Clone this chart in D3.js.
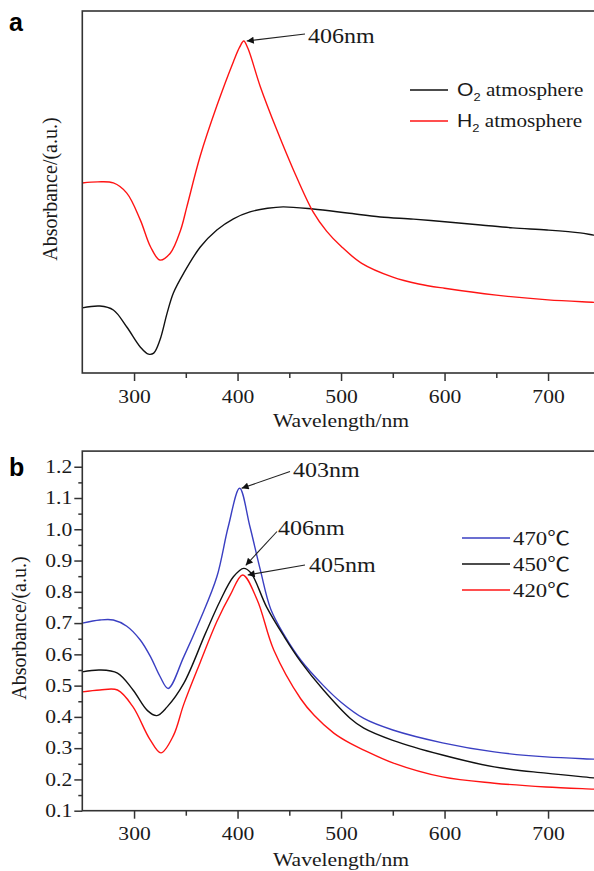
<!DOCTYPE html>
<html>
<head>
<meta charset="utf-8">
<script src="https://cdn.jsdelivr.net/npm/d3@7"></script>
<style>
  body { margin: 0; background: #fff; }
</style>
</head>
<body>
<div id="chart"></div>
<script>
// ---- data: [wavelength nm, absorbance] ----
const waveTicks = [300, 400, 500, 600, 700];
const waveMinorTicks = [350, 450, 550, 650];
const absTicks = [0.1, 0.2, 0.3, 0.4, 0.5, 0.6, 0.7, 0.8, 0.9, 1.0, 1.1, 1.2];
const absMinorTicks = [0.15, 0.25, 0.35, 0.45, 0.55, 0.65, 0.75, 0.85, 0.95, 1.05, 1.15];

// panel a (arbitrary units)
const o2Atmosphere = [
  [250, 0.180], [267, 0.185], [280, 0.174], [293, 0.127], [306, 0.072], [314, 0.052],
  [319, 0.055], [325, 0.091], [332, 0.166], [338, 0.221], [348, 0.276], [364, 0.348],
  [380, 0.395], [396, 0.426], [412, 0.445], [429, 0.455], [444, 0.459], [473, 0.453],
  [506, 0.442], [538, 0.431], [570, 0.425], [603, 0.417], [635, 0.409], [666, 0.401],
  [699, 0.395], [731, 0.387], [744, 0.381], [750, 0.379]
];
const h2Atmosphere = [
  [250, 0.525], [265, 0.528], [280, 0.525], [293, 0.497], [306, 0.423], [316, 0.348],
  [325, 0.312], [335, 0.331], [345, 0.395], [351, 0.459], [364, 0.600], [380, 0.738],
  [396, 0.860], [402, 0.900], [406, 0.917], [410, 0.897], [422, 0.791], [438, 0.671],
  [454, 0.561], [473, 0.445], [486, 0.392], [500, 0.350], [520, 0.303], [550, 0.265],
  [575, 0.246], [600, 0.234], [650, 0.215], [700, 0.202], [745, 0.195], [750, 0.194]
];
const gasNames = ["O", "H"];

// panel b
const temp470 = [
  [250, 0.700], [267, 0.710], [280, 0.710], [293, 0.690], [306, 0.646], [316, 0.592],
  [325, 0.530], [333, 0.491], [348, 0.592], [364, 0.712], [380, 0.848],
  [391, 1.008], [402, 1.131], [412, 1.008], [422, 0.870], [432, 0.745], [445, 0.662],
  [461, 0.582], [483, 0.500], [500, 0.447], [522, 0.395], [550, 0.358], [598, 0.317],
  [648, 0.288], [698, 0.272], [744, 0.265], [750, 0.264]
];
const temp450 = [
  [250, 0.544], [267, 0.550], [284, 0.540], [299, 0.486], [313, 0.420], [322, 0.404],
  [332, 0.432], [348, 0.507], [369, 0.667], [383, 0.770], [396, 0.848], [406, 0.875],
  [413, 0.860], [428, 0.752], [445, 0.657], [461, 0.577], [483, 0.486], [509, 0.395],
  [522, 0.364], [550, 0.325], [598, 0.278], [648, 0.240], [698, 0.220], [744, 0.205],
  [750, 0.203]
];
const temp420 = [
  [250, 0.480], [267, 0.486], [284, 0.486], [299, 0.432], [315, 0.330], [326, 0.285],
  [338, 0.340], [348, 0.440], [364, 0.575], [380, 0.705], [393, 0.790], [405, 0.854],
  [419, 0.774], [435, 0.614], [461, 0.458], [474, 0.405], [493, 0.348], [509, 0.315],
  [522, 0.294], [550, 0.253], [598, 0.208], [648, 0.188], [698, 0.176], [744, 0.169],
  [750, 0.168]
];
const tempNames = ["470\u2103", "450\u2103", "420\u2103"];
const peakLabelsA = ["406nm"];
const peakLabelsB = ["403nm", "406nm", "405nm"];

// ---- setup ----
const W = 594, H = 871;
const serif = '"Liberation Serif","Times New Roman","Noto Sans CJK SC",serif';
const sans = '"Liberation Sans",Arial,sans-serif';
const STRETCH = 1.2;  // source figure text is a bit wide
const axisColor = "#333";
const red = "#ff1414", blue = "#3a3fc2", black = "#111";

const svg = d3.select("#chart").append("svg")
  .attr("width", W).attr("height", H)
  .style("font-family", serif);

const defs = svg.append("defs");
defs.append("marker")
  .attr("id", "arrow")
  .attr("viewBox", "0 0 10 10")
  .attr("refX", 10).attr("refY", 5)
  .attr("markerUnits", "userSpaceOnUse")
  .attr("markerWidth", 10).attr("markerHeight", 7)
  .attr("orient", "auto")
  .append("path").attr("d", "M0,0L10,5L0,10z").attr("fill", "#111");

function text(g, x, y, str, size, anchor) {
  return g.append("text")
    .attr("transform", `translate(${x},${y}) scale(${STRETCH},1)`)
    .attr("text-anchor", anchor || "start")
    .attr("fill", "#1a1a1a")
    .style("font-size", size + "px")
    .text(str);
}

function styleAxis(g) {
  g.select(".domain").remove();
  g.selectAll(".tick line").attr("stroke", axisColor).attr("stroke-width", 1.5);
}

function xAxis(g, x, yPos) {
  const major = g.append("g")
    .attr("transform", `translate(0,${yPos})`)
    .call(d3.axisBottom(x).tickValues(waveTicks).tickSize(8).tickPadding(9).tickSizeOuter(0));
  styleAxis(major);
  major.selectAll("text")
    .attr("transform", `scale(${STRETCH},1)`)
    .attr("fill", "#1a1a1a")
    .style("font-size", "18px").style("font-family", serif);
  const minor = g.append("g")
    .attr("transform", `translate(0,${yPos})`)
    .call(d3.axisBottom(x).tickValues(waveMinorTicks).tickSize(5).tickFormat(""));
  styleAxis(minor);
}

function frame(g, x, y) {
  const [x0, x1] = x.range(), [y0, y1] = y.range();
  g.append("rect")
    .attr("x", x0).attr("y", y1)
    .attr("width", x1 - x0).attr("height", y0 - y1)
    .attr("fill", "none").attr("stroke", axisColor).attr("stroke-width", 1.6);
}

function curve(g, data, x, y, color) {
  const line = d3.line().x(d => x(d[0])).y(d => y(d[1])).curve(d3.curveCatmullRom.alpha(0.5));
  g.append("path").datum(data)
    .attr("fill", "none").attr("stroke", color)
    .attr("stroke-width", 1.4).attr("stroke-linejoin", "round")
    .attr("d", line);
}

function peak(data) { return d3.greatest(data, d => d[1]); }

function arrow(g, x1, y1, x2, y2) {
  g.append("line")
    .attr("x1", x1).attr("y1", y1).attr("x2", x2).attr("y2", y2)
    .attr("stroke", "#222").attr("stroke-width", 1.1)
    .attr("marker-end", "url(#arrow)");
}

// ---- panel a ----
const xA = d3.scaleLinear().domain([250, 750]).range([82.3, 599.8]);
const yA = d3.scaleLinear().domain([0, 1]).range([373, 11]);
const gA = svg.append("g");

curve(gA, o2Atmosphere, xA, yA, black);
curve(gA, h2Atmosphere, xA, yA, red);
frame(gA, xA, yA);
xAxis(gA, xA, 373);

text(gA, xA(500), 427, "Wavelength/nm", 18, "middle");
gA.append("text")
  .attr("transform", "translate(57,189) rotate(-90)")
  .attr("text-anchor", "middle").attr("fill", "#1a1a1a")
  .style("font-size", "20px")
  .text("Absorbance/(a.u.)");

svg.append("text").attr("x", 9).attr("y", 31)
  .style("font-family", sans).style("font-weight", "bold").style("font-size", "25px")
  .text("a");

// peak annotation a
const pA = peak(h2Atmosphere);
arrow(gA, 305, 34, xA(pA[0]) + 3, yA(pA[1]));
text(gA, 308, 43, peakLabelsA[0], 20);

// legend a
[black, red].forEach((c, i) => {
  const ly = 90 + i * 31;
  gA.append("line").attr("x1", 410).attr("x2", 448).attr("y1", ly).attr("y2", ly)
    .attr("stroke", c).attr("stroke-width", 1.4);
  const t = gA.append("text")
    .attr("transform", `translate(457,${ly + 6}) scale(${STRETCH * 0.98},1)`)
    .attr("fill", "#1a1a1a").style("font-size", "18px");
  t.append("tspan").style("font-family", sans).text(gasNames[i]);
  t.append("tspan").style("font-family", sans).style("font-size", "11px").attr("dy", 5).text("2");
  t.append("tspan").attr("dy", -5).text(" atmosphere");
});

// ---- panel b ----
const xB = d3.scaleLinear().domain([250, 750]).range([82.3, 599.8]);
const yB = d3.scaleLinear().domain([0.1, 1.25]).range([810.7, 451.1]);
const gB = svg.append("g");

const seriesB = [temp470, temp450, temp420];
const colorsB = [blue, black, red];
seriesB.forEach((s, i) => curve(gB, s, xB, yB, colorsB[i]));
frame(gB, xB, yB);
xAxis(gB, xB, 810.7);

const yMajor = gB.append("g").attr("transform", "translate(82.3,0)")
  .call(d3.axisLeft(yB).tickValues(absTicks).tickSize(8).tickFormat(d3.format(".1f")).tickSizeOuter(0));
styleAxis(yMajor);
yMajor.selectAll("text")
  .attr("x", -10 / STRETCH)
  .attr("transform", `scale(${STRETCH},1)`)
  .attr("fill", "#1a1a1a")
  .style("font-size", "18px").style("font-family", serif);
const yMinor = gB.append("g").attr("transform", "translate(82.3,0)")
  .call(d3.axisLeft(yB).tickValues(absMinorTicks).tickSize(4).tickFormat(""));
styleAxis(yMinor);

text(gB, xB(500), 866, "Wavelength/nm", 18, "middle");
gB.append("text")
  .attr("transform", "translate(26,628) rotate(-90)")
  .attr("text-anchor", "middle").attr("fill", "#1a1a1a")
  .style("font-size", "20px")
  .text("Absorbance/(a.u.)");

svg.append("text").attr("x", 9).attr("y", 476)
  .style("font-family", sans).style("font-weight", "bold").style("font-size", "25px")
  .text("b");

// peak annotations b: line start, text position, tip offset from the peak
const annB = [
  { from: [290, 471.5], at: [293, 477], off: [2, 0] },
  { from: [277, 531.5], at: [278, 535], off: [2, -3] },
  { from: [305, 565], at: [309, 572], off: [5, 0] }
];
seriesB.forEach((s, i) => {
  const p = peak(s), a = annB[i];
  arrow(gB, a.from[0], a.from[1], xB(p[0]) + a.off[0], yB(p[1]) + a.off[1]);
  text(gB, a.at[0], a.at[1], peakLabelsB[i], 20);
});

// legend b
colorsB.forEach((c, i) => {
  const ly = 538 + i * 26;
  gB.append("line").attr("x1", 462).attr("x2", 510).attr("y1", ly).attr("y2", ly)
    .attr("stroke", c).attr("stroke-width", 1.5);
  text(gB, 513, ly + 7, tempNames[i], 19);
});
</script>
</body>
</html>
